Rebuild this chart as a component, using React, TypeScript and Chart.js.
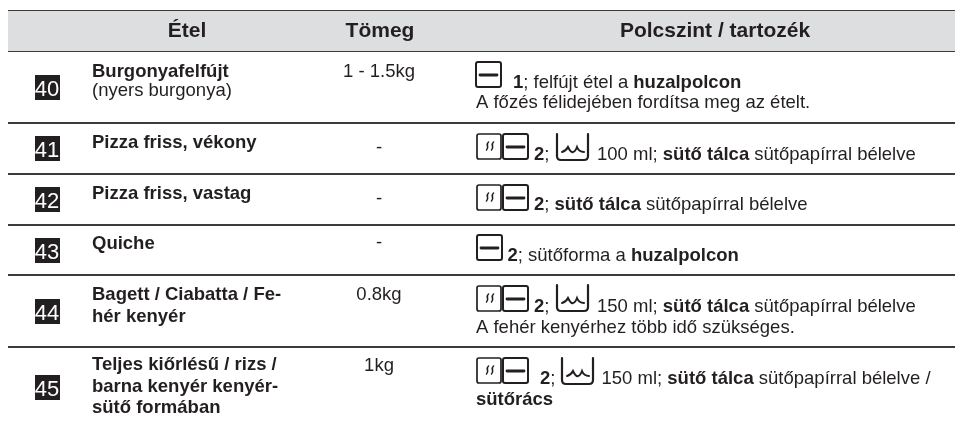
import React, { useEffect, useRef } from "react";
import { Chart, registerables } from "chart.js";

Chart.register(...registerables);

// ---- content ----
const headers = ["Étel", "Tömeg", "Polcszint / tartozék"];
const rowNumbers = ["40", "41", "42", "43", "44", "45"];
const dishes = [
  ["**Burgonyafelfújt**", "(nyers burgonya)"],
  ["**Pizza friss, vékony**"],
  ["**Pizza friss, vastag**"],
  ["**Quiche**"],
  ["**Bagett / Ciabatta / Fe-**", "**hér kenyér**"],
  ["**Teljes kiőrlésű / rizs /**", "**barna kenyér kenyér-**", "**sütő formában**"],
];
const weights = ["1 - 1.5kg", "-", "-", "-", "0.8kg", "1kg"];
const noteLines = [
  "**1**; felfújt étel a **huzalpolcon**",
  "A főzés félidejében fordítsa meg az ételt.",
  "**2**;",
  "100 ml; **sütő tálca** sütőpapírral bélelve",
  "**2**; **sütő tálca** sütőpapírral bélelve",
  "**2**; sütőforma a **huzalpolcon**",
  "**2**;",
  "150 ml; **sütő tálca** sütőpapírral bélelve",
  "A fehér kenyérhez több idő szükséges.",
  "**2**;",
  "150 ml; **sütő tálca** sütőpapírral bélelve /",
  "**sütőrács**",
];

// ---- layout (in scale units, 1 unit = 1 px) ----
const tableLeft = 8;
const tableRight = 955;
const headerTop = 11;
const headerBottom = 51;
const ruleYs = [11, 51, 123, 174, 225, 275, 347];
const badgeX = 47.5;
const badgeYs = [87.5, 148.5, 199.5, 250.5, 311.5, 387.5];
const headerXs = [187, 380, 715];
const headerBaseline = 37;
const dishX = 92;
const dishBaselines = [[77, 96], [148], [199], [249], [300, 322], [370, 392, 413]];
const weightX = 379;
const weightBaselines = [77, 153, 204, 248, 300, 371];
const noteX = [513, 476, 534, 597, 534, 507.5, 534, 597, 476, 540, 601.5, 476];
const noteY = [88, 108, 160, 160, 210, 261, 312, 312, 333, 384, 384, 405];
const shelfIcons = [[476, 62], [503, 134], [503, 185], [477, 235], [503, 286], [503, 358]];
const steamIcons = [[477, 134], [477, 185], [477, 286], [477, 358]];
const waterIcons = [[556, 134], [556, 285], [561, 358]];

const ink = "#231f20";
const ruleColor = "#3c3a3b";
const bandColor = "#dcdee0";
const FAMILY = '"Liberation Sans", Arial, sans-serif';
const HEADER_PX = 21;
const BODY_PX = 18.5;
const BADGE_PX = 22;

function drawRich(ctx: CanvasRenderingContext2D, s: string, x: number, y: number, px: number) {
  let cx = x;
  s.split("**").forEach((part, i) => {
    if (!part) return;
    ctx.font = `${i % 2 ? "bold " : ""}${px}px ${FAMILY}`;
    ctx.fillText(part, cx, y);
    cx += ctx.measureText(part).width;
  });
}

function roundBox(ctx: CanvasRenderingContext2D, x: number, y: number, w: number, h: number) {
  ctx.beginPath();
  ctx.roundRect(x, y, w, h, 2);
  ctx.stroke();
}

const tablePlugin = {
  id: "tableText",
  afterDatasetsDraw(chart: any) {
    const { ctx, scales } = chart;
    const X = (v: number) => scales.x.getPixelForValue(v);
    const Y = (v: number) => scales.y.getPixelForValue(v);
    ctx.save();
    ctx.fillStyle = ink;
    ctx.textBaseline = "alphabetic";

    ctx.textAlign = "center";
    ctx.font = `bold ${HEADER_PX}px ${FAMILY}`;
    headers.forEach((h, i) => ctx.fillText(h, X(headerXs[i]), Y(headerBaseline)));

    ctx.font = `${BODY_PX}px ${FAMILY}`;
    weights.forEach((w, i) => ctx.fillText(w, X(weightX), Y(weightBaselines[i])));

    ctx.fillStyle = "#ffffff";
    ctx.font = `${BADGE_PX}px ${FAMILY}`;
    rowNumbers.forEach((n, i) => ctx.fillText(n, X(badgeX - 0.5), Y(badgeYs[i] + 8)));

    ctx.fillStyle = ink;
    ctx.textAlign = "left";
    dishes.forEach((lines, r) =>
      lines.forEach((l, i) => drawRich(ctx, l, X(dishX), Y(dishBaselines[r][i]), BODY_PX))
    );
    noteLines.forEach((l, i) => drawRich(ctx, l, X(noteX[i]), Y(noteY[i]), BODY_PX));

    // oven symbols
    ctx.strokeStyle = ink;
    ctx.lineCap = "round";
    shelfIcons.forEach(([x, y]) => {
      const px = X(x), py = Y(y);
      ctx.lineWidth = 2;
      roundBox(ctx, px, py, 25, 25);
      ctx.lineWidth = 2.8;
      ctx.beginPath();
      ctx.moveTo(px + 4, py + 13);
      ctx.lineTo(px + 21, py + 13);
      ctx.stroke();
    });
    steamIcons.forEach(([x, y]) => {
      const px = X(x), py = Y(y);
      ctx.lineWidth = 1.7;
      roundBox(ctx, px, py, 24, 25);
      ctx.lineWidth = 1.6;
      [10, 15].forEach((dx) => {
        ctx.beginPath();
        ctx.moveTo(px + dx + 1.5, py + 8);
        ctx.bezierCurveTo(px + dx - 2, py + 11, px + dx + 3, py + 13, px + dx - 0.5, py + 16);
        ctx.stroke();
      });
    });
    waterIcons.forEach(([x, y]) => {
      const px = X(x), py = Y(y);
      ctx.lineWidth = 2.2;
      ctx.beginPath();
      ctx.moveTo(px + 1, py);
      ctx.lineTo(px + 1, py + 22);
      ctx.quadraticCurveTo(px + 1, py + 26, px + 5, py + 26);
      ctx.lineTo(px + 28, py + 26);
      ctx.quadraticCurveTo(px + 32, py + 26, px + 32, py + 22);
      ctx.lineTo(px + 32, py);
      ctx.stroke();
      ctx.lineWidth = 2;
      ctx.beginPath();
      ctx.moveTo(px + 6, py + 18);
      ctx.quadraticCurveTo(px + 10, py + 17, px + 12, py + 13);
      ctx.quadraticCurveTo(px + 15, py + 19, px + 17, py + 18);
      ctx.quadraticCurveTo(px + 19, py + 18, px + 21, py + 13);
      ctx.quadraticCurveTo(px + 23, py + 18, px + 28, py + 18);
      ctx.stroke();
    });
    ctx.restore();
  },
};

export default function App() {
  const ref = useRef<HTMLCanvasElement>(null);
  useEffect(() => {
    document.body.style.margin = "0";
    document.body.style.background = "#ffffff";
    const chart = new Chart(ref.current!, {
      type: "scatter",
      data: {
        datasets: [
          {
            data: [
              { x: tableLeft, y: headerTop },
              { x: tableRight, y: headerTop },
            ],
            showLine: true,
            pointRadius: 0,
            borderWidth: 0,
            backgroundColor: bandColor,
            fill: { value: headerBottom },
          } as any,
          ...ruleYs.map((y) => ({
            data: [
              { x: tableLeft, y },
              { x: tableRight, y },
            ],
            showLine: true,
            pointRadius: 0,
            borderColor: ruleColor,
            borderWidth: 1.8,
          })),
          {
            data: badgeYs.map((y) => ({ x: badgeX, y })),
            pointStyle: "rect",
            pointRadius: 25 / Math.SQRT2,
            pointBackgroundColor: ink,
            pointBorderWidth: 0,
          },
        ],
      },
      options: {
        animation: false,
        responsive: false,
        layout: { padding: 0, autoPadding: false },
        events: [],
        plugins: { legend: { display: false }, tooltip: { enabled: false }, title: { display: false } },
        scales: {
          x: { type: "linear", min: 0, max: 955, display: false },
          y: { type: "linear", min: 0, max: 422, reverse: true, display: false },
        },
      },
      plugins: [tablePlugin],
    });
    return () => chart.destroy();
  }, []);
  return (
    <div style={{ position: "absolute", left: 0, top: 0, width: 955, height: 422 }}>
      <canvas ref={ref} width={955} height={422} style={{ display: "block" }} />
    </div>
  );
}
